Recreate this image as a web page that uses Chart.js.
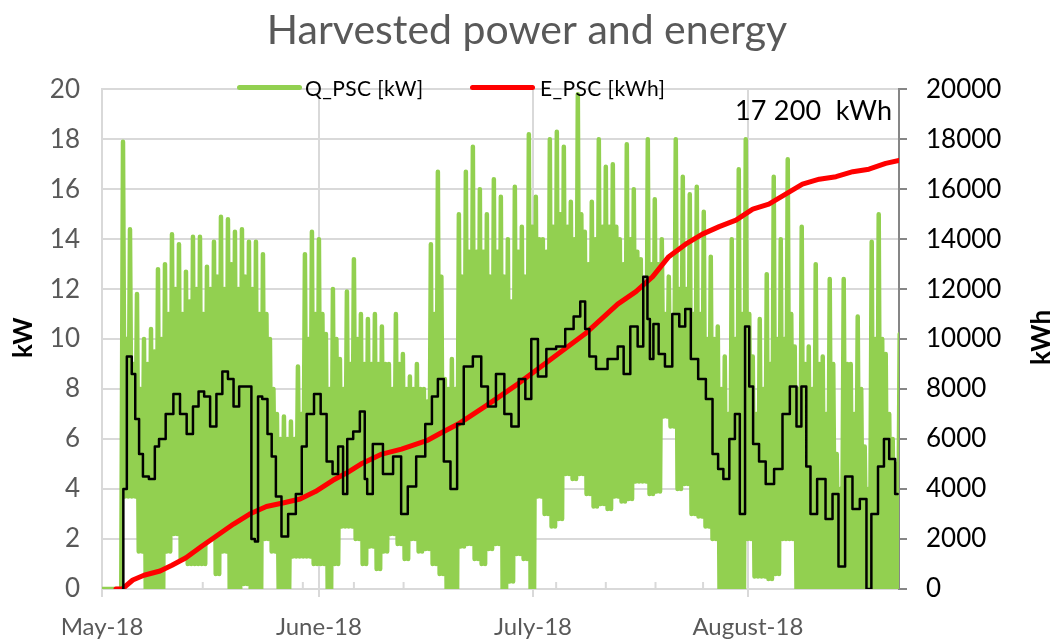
<!DOCTYPE html>
<html>
<head>
<meta charset="utf-8">
<title>Harvested power and energy</title>
<script src="https://cdn.jsdelivr.net/npm/chart.js@4.4.1/dist/chart.umd.min.js"></script>
<style>
    body { margin: 0; background: #fff; }
    #wrap { position: relative; width: 1054px; height: 644px; font-family: Lato, 'Liberation Sans', sans-serif; }
    .swatch { position: absolute; height: 5px; border-radius: 3px; }
    .lbl { position: absolute; font-size: 21px; color: #000; white-space: pre; line-height: 24px; letter-spacing: 0.4px; }
    .axis-title { position: absolute; font-size: 26px; font-weight: bold; color: #000; transform: rotate(-90deg); transform-origin: center; white-space: pre; }
</style>
</head>
<body>
<div id="wrap">
    <canvas id="chart" width="1054" height="644"></canvas>
    <!-- legend sits on the top edge of the plot, like the Excel original -->
    <div class="swatch" style="left:237px; top:85px; width:65px; background:#92d050;"></div>
    <div class="lbl" style="left:305px; top:76px;">Q_PSC [kW]</div>
    <div class="swatch" style="left:470px; top:85px; width:65px; background:#ff0000;"></div>
    <div class="lbl" style="left:540px; top:76px;">E_PSC [kWh]</div>
    <div class="lbl" style="left:735px; top:95px; font-size:27px; line-height:30px; letter-spacing:0.2px;">17 200  kWh</div>
    <div class="axis-title" style="left:2px; top:322px; width:40px; text-align:center;">kW</div>
    <div class="axis-title" style="left:1013px; top:322px; width:54px; text-align:center;">kWh</div>
</div>
<script>
// x axis = days since 1 May 2018
const monthDays = [0, 31, 61.6, 92.3];
const monthLabels = ['May-18', 'June-18', 'July-18', 'August-18'];
const minorTickDays = [7.2, 14.4, 21.6, 28.7, 36, 43.1, 50.3, 57.7, 64.9, 72, 79.1, 85.9, 100.1, 107.3];

// Q_PSC [kW], per day: spike top, bottom of the band, top of the dense band
const qPeaks = [
    0, 0, 0, 17.9, 14.4, 11.8, 10.0, 10.4, 12.8, 13.0,
    14.2, 13.8, 12.7, 14.1, 14.1, 12.9, 13.9, 14.9, 14.8, 14.3,
    14.4, 13.9, 13.9, 13.4, 10.0, 7.0, 6.9, 6.7, 8.9, 13.4,
    14.3, 14.0, 10.2, 12.0, 9.2, 11.9, 13.2, 11.0, 10.8, 11.0,
    10.5, 9.0, 11.0, 9.4, 8.5, 9.0, 8.0, 13.8, 16.7, 8.4,
    9.2, 15.0, 16.7, 17.7, 16.0, 15.0, 16.4, 15.7, 14.0, 16.1,
    14.5, 18.2, 15.7, 14.0, 18.0, 18.3, 17.7, 15.5, 19.8, 14.3,
    15.5, 18.0, 16.9, 17.0, 14.0, 17.8, 16.0, 13.2, 18.0, 15.6,
    14.0, 12.5, 18.0, 16.5, 15.8, 16.1, 15.1, 13.3, 10.5, 9.3,
    14.0, 16.8, 18.0, 9.3, 10.8, 12.6, 16.5, 14.0, 17.2, 9.7,
    14.5, 9.7, 13.0, 9.3, 12.4, 5.4, 12.4, 9.0, 10.9, 5.7,
    13.9, 15.0, 9.4, 6.0, 10.2
];
const qTroughs = [
    0, 0, 0, 3.7, 3.7, 1.5, 0, 0, 0, 1.5,
    2.2, 1.2, 1.0, 1.0, 1.0, 2.0, 0.6, 1.5, 0, 0,
    0.2, 0, 0, 2.0, 1.5, 0, 0, 1.3, 1.3, 1.3,
    1.0, 1.0, 0, 1.0, 2.5, 2.5, 2.0, 1.0, 1.7, 0.8,
    1.5, 2.2, 1.8, 1.2, 2.0, 1.5, 1.6, 1.0, 0.6, 0,
    0, 1.7, 1.8, 1.2, 1.0, 1.6, 1.8, 0, 0.3, 1.4,
    1.2, 0, 3.7, 3.0, 2.5, 2.8, 4.6, 4.4, 4.6, 3.8,
    3.3, 3.4, 3.2, 3.7, 3.5, 3.6, 4.3, 4.3, 3.8, 3.9,
    6.9, 6.5, 4.0, 4.2, 3.0, 2.9, 2.5, 2.0, 0, 0,
    0, 0, 2.0, 0.5, 0.5, 0.4, 0.6, 2.0, 2.0, 0,
    0, 0, 0, 0, 0, 0, 0, 0, 0, 0,
    0, 0, 0, 0
];
const qShoulders = [
    0, 0, 0, 10, 9, 8, 9, 9.5, 10, 11,
    12, 11, 11.5, 12, 11, 12, 12.5, 12, 13, 12,
    12.5, 12, 11, 11, 8, 6, 6, 6, 7, 10,
    11, 11, 8, 10, 8, 9, 10, 9, 9, 9,
    9, 8, 9, 8, 8, 8, 7.5, 11, 12.5, 8,
    8, 12.5, 13.5, 13.5, 13.5, 12.5, 13.5, 12.5, 11.5, 13.5,
    12.5, 14.5, 14, 13.5, 14.5, 15, 14.5, 14, 15, 13,
    14, 14.5, 14.5, 14.5, 13, 14, 13.5, 12, 13, 13,
    11, 10, 12, 12, 11, 11, 10, 10, 8, 7,
    10, 11, 11, 7, 8, 9, 10, 10, 11, 8,
    9, 8, 9, 7, 9, 4, 9, 7, 8, 4,
    10, 10, 7, 5
];

// running average (black line, kW)
const avgDays = [
    3.0, 3.1, 4.0, 4.5, 5.0, 5.6, 6.1, 7.3, 7.8, 8.5, 9.7, 10.7, 11.6, 12.6, 13.4, 14.2, 15.0, 15.9, 16.8, 17.6,
    18.4, 19.2, 20.0, 21.1, 21.6, 22.1, 22.5, 23.3, 24.0, 24.5, 25.2, 26.1, 27.1, 28.3, 28.8, 29.7, 30.9, 31.6, 32.6, 33.3,
    34.2, 34.7, 35.4, 36.4, 37.3, 37.8, 38.0, 39.4, 40.9, 42.3, 43.2, 44.2, 45.6, 46.8, 47.5, 48.5, 49.2, 50.4, 51.1, 52.3,
    53.7, 54.7, 55.6, 57.0, 58.0, 59.0, 60.1, 60.9, 61.8, 62.8, 64.2, 65.6, 66.8, 68.0, 68.7, 69.4, 69.9, 71.3, 73.2, 74.2,
    74.9, 76.1, 77.0, 77.7, 78.2, 78.4, 79.2, 79.9, 81.0, 82.0, 83.0, 83.7, 84.6, 85.8, 86.8, 87.7, 88.4, 89.2, 90.1, 90.8,
    91.5, 92.3, 92.7, 93.4, 94.4, 95.3, 96.8, 97.7, 98.9, 99.6, 100.3, 101.0, 101.5, 102.9, 103.9, 104.9, 105.6, 106.8, 107.7, 108.9,
    109.6, 110.3, 111.5, 112.0, 113.0, 113.7
];
const avgKW = [
    0, 4.0, 9.3, 8.6, 6.8, 5.4, 4.5, 4.4, 5.7, 6.0, 7.0, 7.8, 7.0, 6.2, 7.3, 7.9, 7.7, 6.5, 7.8, 8.7,
    8.4, 7.3, 8.1, 8.1, 2.0, 1.9, 7.7, 7.6, 6.2, 5.3, 3.7, 2.1, 3.0, 3.8, 5.7, 7.0, 7.8, 7.0, 5.1, 4.6,
    5.7, 3.8, 6.0, 6.3, 7.1, 4.4, 3.8, 5.8, 4.6, 5.3, 3.0, 4.1, 5.3, 6.6, 7.7, 8.4, 5.1, 4.0, 6.6, 8.9,
    9.3, 8.1, 7.3, 8.6, 7.0, 6.5, 8.4, 7.6, 10.0, 8.5, 9.6, 9.7, 10.4, 10.9, 11.5, 10.4, 9.3, 8.8, 9.2, 9.7,
    8.6, 10.5, 9.7, 12.5, 10.8, 9.2, 10.6, 9.4, 8.9, 11.0, 10.5, 11.2, 9.2, 8.4, 7.6, 5.4, 4.8, 4.4, 6.0, 7.0,
    3.0, 10.5, 8.1, 5.8, 5.1, 4.2, 4.8, 7.0, 8.1, 6.5, 8.1, 4.9, 3.0, 4.4, 2.8, 3.8, 0.9, 4.5, 3.2, 3.6,
    0, 3.0, 4.9, 6.0, 5.2, 3.8
];

// E_PSC [kWh] cumulative energy
const eDays = [
    2.0, 2.9, 4.4, 6.0, 8.3, 10.0, 12.0, 14.2, 16.5, 18.8, 21.1, 23.5, 26.0, 28.3, 30.5, 33.0, 35.0, 37.0, 40.0, 42.8,
    46.6, 48.5, 50.9, 54.7, 59.4, 64.2, 69.0, 73.7, 76.3, 78.7, 81.0, 83.4, 85.8, 88.2, 90.6, 93.0, 95.3, 97.7, 100.1, 102.5,
    104.9, 107.3, 109.6, 112.0, 113.9
];
const eKWh = [
    0, 0, 360, 550, 720, 950, 1250, 1700, 2150, 2600, 3000, 3300, 3450, 3600, 3900, 4350, 4650, 5000, 5400, 5600,
    5960, 6250, 6600, 7300, 8200, 9200, 10200, 11400, 11900, 12500, 13300, 13800, 14200, 14500, 14760, 15200, 15400, 15800, 16200, 16400,
    16500, 16700, 16800, 17030, 17150
];

const qPoints = [];
qPeaks.forEach((v, i) => {
    qPoints.push({ x: i, y: v });
    if (i < qTroughs.length) {
        qPoints.push({ x: i + 0.25, y: qTroughs[i] });
        qPoints.push({ x: i + 0.5, y: qShoulders[i] });
        qPoints.push({ x: i + 0.75, y: qTroughs[i] });
    }
});
const avgPoints = avgDays.map((d, i) => ({ x: d, y: avgKW[i] }));
const ePoints = eDays.map((d, i) => ({ x: d, y: eKWh[i] }));

// small inner tick marks on the date axis (drawn under the data)
const minorTicks = {
    id: 'minorTicks',
    beforeDatasetsDraw(chart) {
        const { ctx, chartArea, scales } = chart;
        ctx.save();
        ctx.strokeStyle = '#d9d9d9';
        ctx.lineWidth = 2;
        minorTickDays.forEach(d => {
            const px = scales.x.getPixelForValue(d);
            ctx.beginPath();
            ctx.moveTo(px, chartArea.bottom);
            ctx.lineTo(px, chartArea.bottom - 7);
            ctx.stroke();
        });
        ctx.restore();
    }
};

Chart.defaults.font.family = "Lato, 'Liberation Sans', sans-serif";

new Chart(document.getElementById('chart'), {
    type: 'line',
    data: {
        datasets: [
            { label: 'avg', data: avgPoints, borderColor: '#000000', borderWidth: 2.5, stepped: 'middle', yAxisID: 'y' },
            { label: 'E_PSC [kWh]', data: ePoints, borderColor: '#ff0000', borderWidth: 5, yAxisID: 'y1' },
            { label: 'Q_PSC [kW]', data: qPoints, borderColor: '#92d050', borderWidth: 4.5, yAxisID: 'y' }
        ]
    },
    options: {
        responsive: false,
        animation: false,
        devicePixelRatio: 1,
        elements: {
            point: { radius: 0 },
            line: { tension: 0, borderJoinStyle: 'round', borderCapStyle: 'round', fill: false }
        },
        layout: { padding: 0 },
        plugins: {
            legend: { display: false },
            tooltip: { enabled: false },
            title: {
                display: true,
                text: 'Harvested power and energy',
                color: '#595959',
                font: { size: 41, weight: 'normal' },
                padding: { top: 6, bottom: 34 }
            }
        },
        scales: {
            x: {
                type: 'linear',
                min: 0,
                max: 113.9,
                afterBuildTicks: scale => { scale.ticks = monthDays.map(v => ({ value: v })); },
                afterFit: scale => { scale.height = 55; },
                ticks: {
                    autoSkip: false,
                    maxRotation: 0,
                    color: '#595959',
                    font: { size: 24 },
                    padding: 16,
                    callback: (v, i) => monthLabels[i]
                },
                grid: { color: '#d9d9d9', lineWidth: 2, tickLength: 8, tickColor: '#d9d9d9' },
                border: { color: '#d9d9d9', width: 2 }
            },
            y: {
                position: 'left',
                min: 0,
                max: 20,
                afterFit: scale => { scale.width = 102; },
                ticks: { stepSize: 2, color: '#595959', font: { size: 26 }, padding: 22 },
                grid: { color: '#d9d9d9', lineWidth: 2, drawTicks: false },
                border: { color: '#d9d9d9', width: 2 }
            },
            y1: {
                position: 'right',
                min: 0,
                max: 20000,
                afterFit: scale => { scale.width = 155; },
                ticks: { stepSize: 2000, color: '#000000', font: { size: 26 }, padding: 19, callback: v => String(v) },
                grid: { drawOnChartArea: false, tickLength: 8, tickColor: '#868686', lineWidth: 2 },
                border: { color: '#868686', width: 2 }
            }
        }
    },
    plugins: [minorTicks]
});
</script>
</body>
</html>
